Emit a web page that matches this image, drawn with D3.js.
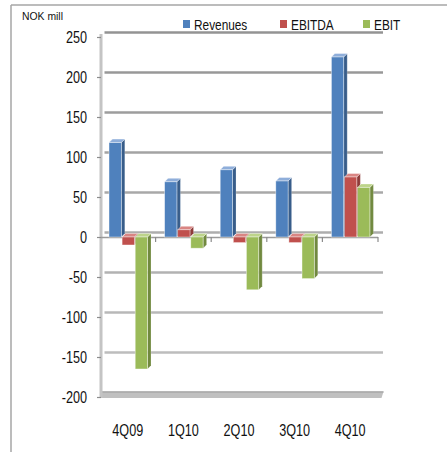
<!DOCTYPE html>
<html><head><meta charset="utf-8">
<script src="https://cdn.jsdelivr.net/npm/d3@7"></script>
<style>
html,body{margin:0;padding:0;background:#fff;}
svg{display:block;}
</style></head>
<body>
<svg id="c" width="447" height="452"></svg>
<script>
const categories = ["4Q09","1Q10","2Q10","3Q10","4Q10"];
const seriesNames = ["Revenues","EBITDA","EBIT"];
const revenues = [118, 69, 84, 70, 225];
const ebitda = [-10, 9, -7, -7, 75];
const ebit = [-165, -14, -66, -52, 62];
const yTicks = [-200,-150,-100,-50,0,50,100,150,200,250];
const unitLabel = "NOK mill";

const seriesVals = [revenues, ebitda, ebit];
const front = ["#4F81BD","#C0504D","#9BBB59"];
const side  = ["#385D8A","#8E3B39","#71893F"];
const topc  = ["#8FAEDA","#D98583","#BDD48A"];

const svg = d3.select("#c");
const W = 447, H = 452;
const FONT = "Liberation Sans, Arial, sans-serif";
const SX = 0.79;

function narrow(x, yy, anchor, size, txt){
  return svg.append("text")
    .attr("transform",`translate(${x},${yy}) scale(${SX},1)`)
    .attr("text-anchor",anchor).attr("font-family",FONT)
    .attr("font-size",size).attr("fill","#111").text(txt);
}

// frame
svg.append("line").attr("x1",11).attr("y1",5).attr("x2",W).attr("y2",5).attr("stroke","#a6a6a6").attr("stroke-width",1.5);
svg.append("line").attr("x1",11).attr("y1",5).attr("x2",11).attr("y2",H).attr("stroke","#a6a6a6").attr("stroke-width",1.5);

const y = d3.scaleLinear().domain([-200,250]).range([397,37]);
const x0 = d3.scaleBand().domain(categories).range([100,378]).padding(0);
const x1 = d3.scaleBand().domain(seriesNames).range([9, 47.5]).paddingInner(0.06);
const bdx = 3.5, bdy = -4.5; // back wall offset
const gcol = d3.scaleLinear().domain([250,-200]).range(["#939393","#c2c2c2"]);

// back gridlines
yTicks.forEach(t=>{
  if (t===-200) return;
  svg.append("line").attr("x1",101+bdx).attr("x2",378+bdx+1.5)
    .attr("y1",y(t)+bdy).attr("y2",y(t)+bdy)
    .attr("stroke",gcol(t)).attr("stroke-width",2.7);
});

// floor
svg.append("path")
  .attr("d",`M101,${y(-200)+bdy-1} L${378+bdx+2},${y(-200)+bdy-1} L${378+bdx},${y(-200)+1} L101,${y(-200)+1} Z`)
  .attr("fill","#c0c0c0");
svg.append("line").attr("x1",101).attr("x2",378+bdx+2).attr("y1",y(-200)+bdy-0.5).attr("y2",y(-200)+bdy-0.5)
  .attr("stroke","#a8a8a8").attr("stroke-width",1.5);

// left wall edge
svg.append("rect").attr("x",99.5).attr("y",y(250)-3).attr("width",3).attr("height",y(-200)-y(250)+4).attr("fill","#c4c4c4");

// value axis ticks (d3 axis for tick marks), labels drawn narrow
const ya = d3.axisLeft(y).tickValues(yTicks).tickSize(4).tickFormat("");
const gy = svg.append("g").attr("transform","translate(101,0)").call(ya);
gy.select(".domain").remove();
gy.selectAll(".tick line").attr("stroke","#8c8c8c").attr("stroke-width",1.2);
yTicks.forEach(t=>{
  narrow(87, y(t)+6, "end", 16, String(t));
});

// category axis line at zero (front)
svg.append("line").attr("x1",101).attr("x2",378).attr("y1",y(0)+0.5).attr("y2",y(0)+0.5)
  .attr("stroke","#9a9a9a").attr("stroke-width",1.3);
categories.forEach(c=>{
  const xe = x0(c)+x0.bandwidth();
  svg.append("line").attr("x1",xe).attr("x2",xe).attr("y1",y(0)).attr("y2",y(0)+5)
    .attr("stroke","#8c8c8c").attr("stroke-width",1.2);
});

// bars
const dx = 3.5, dy = 3.5;
categories.forEach((c,ci)=>{
  seriesNames.forEach((s,si)=>{
    const v = seriesVals[si][ci];
    const xl = x0(c)+x1(s), w = x1.bandwidth(), xr = xl + w;
    const top = Math.min(y(v), y(0)), bot = Math.max(y(v), y(0));
    const g = svg.append("g");
    g.append("path").attr("d",`M${xr},${top} L${xr+dx},${top-dy} L${xr+dx},${bot-dy} L${xr},${bot} Z`)
      .attr("fill",side[si]).attr("stroke","#fff").attr("stroke-opacity",0.35).attr("stroke-width",0.6);
    g.append("path").attr("d",`M${xl},${top} L${xl+dx},${top-dy} L${xr+dx},${top-dy} L${xr},${top} Z`)
      .attr("fill",topc[si]).attr("stroke","#fff").attr("stroke-opacity",0.6).attr("stroke-width",0.6);
    g.append("rect").attr("x",xl).attr("y",top).attr("width",w).attr("height",bot-top)
      .attr("fill",front[si]).attr("stroke","#fff").attr("stroke-opacity",0.6).attr("stroke-width",0.7);
  });
});

// category labels
categories.forEach(c=>{
  narrow(x0(c)+x0.bandwidth()/2, 436, "middle", 16, c);
});

// unit label
svg.append("text").attr("x",22).attr("y",20).attr("font-family",FONT)
  .attr("font-size",10.4).attr("fill","#111").text(unitLabel);

// legend
const legX = [183, 280, 363];
seriesNames.forEach((s,si)=>{
  svg.append("rect").attr("x",legX[si]).attr("y",20).attr("width",7).attr("height",8).attr("fill",front[si]);
  narrow(legX[si]+11, 30, "start", 15, s);
});
</script>
</body></html>
